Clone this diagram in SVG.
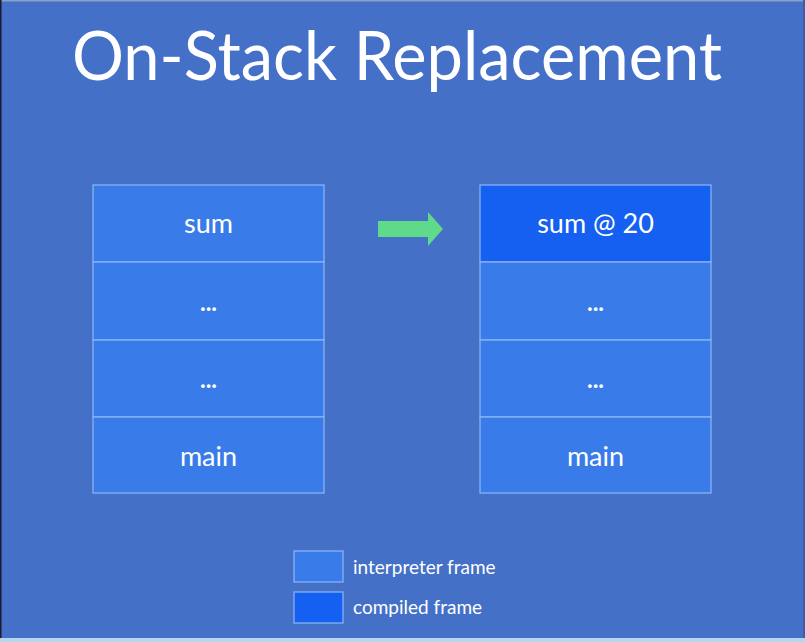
<svg xmlns="http://www.w3.org/2000/svg" width="805" height="642" viewBox="0 0 805 642">
  <style>
    .frame { fill: #3a7bea; stroke: #8db8f5; stroke-width: 1.2; }
    .compiled { fill: #1560f0; stroke: #8db8f5; stroke-width: 1.2; }
    .label { fill: #ffffff; font-family: Lato, "Open Sans", "Liberation Sans", sans-serif; font-size: 27px; text-anchor: middle; }
    .dots { font-weight: bold; font-size: 24px; }
    .legend { fill: #ffffff; font-family: Lato, "Open Sans", "Liberation Sans", sans-serif; font-size: 19px; }
    .title { fill: #ffffff; font-family: Lato, "Open Sans", "Liberation Sans", sans-serif; font-size: 68px; text-anchor: middle; }
  </style>
  <!-- slide background -->
  <rect x="0" y="0" width="805" height="642" fill="#4570c8"/>
  <rect x="0" y="0" width="805" height="1.5" fill="#8aa0c8"/>
  <rect x="0" y="0" width="1.5" height="642" fill="#1a1a2a"/>
  <rect x="803" y="0" width="2" height="642" fill="#3a5ea8"/>
  <rect x="0" y="638" width="805" height="4" fill="#b8d4f0"/>

  <text class="title" x="397" y="80" textLength="650" lengthAdjust="spacingAndGlyphs">On-Stack Replacement</text>

  <!-- stack before -->
  <g id="stack-before">
    <g id="before-sum">
      <rect class="frame" x="93" y="185" width="231" height="77"/>
      <text class="label" x="208.5" y="233">sum</text>
    </g>
    <g id="before-dots1">
      <rect class="frame" x="93" y="262" width="231" height="78"/>
      <text class="label dots" x="208.5" y="311">...</text>
    </g>
    <g id="before-dots2">
      <rect class="frame" x="93" y="340" width="231" height="77"/>
      <text class="label dots" x="208.5" y="388">...</text>
    </g>
    <g id="before-main">
      <rect class="frame" x="93" y="417" width="231" height="76"/>
      <text class="label" x="208.5" y="466">main</text>
    </g>
  </g>

  <!-- stack after -->
  <g id="stack-after">
    <g id="after-sum">
      <rect class="compiled" x="480" y="185" width="231" height="77"/>
      <text class="label" x="595.5" y="233">sum @ 20</text>
    </g>
    <g id="after-dots1">
      <rect class="frame" x="480" y="262" width="231" height="78"/>
      <text class="label dots" x="595.5" y="311">...</text>
    </g>
    <g id="after-dots2">
      <rect class="frame" x="480" y="340" width="231" height="77"/>
      <text class="label dots" x="595.5" y="388">...</text>
    </g>
    <g id="after-main">
      <rect class="frame" x="480" y="417" width="231" height="76"/>
      <text class="label" x="595.5" y="466">main</text>
    </g>
  </g>

  <!-- replacement arrow -->
  <g id="connectors">
    <polygon points="378,221 428,221 428,212 443,229 428,246 428,237 378,237" fill="#5fd98a"/>
  </g>

  <!-- legend -->
  <g id="legend-interpreter">
    <rect class="frame" x="294" y="551" width="49" height="31"/>
    <text class="legend" x="353" y="574">interpreter frame</text>
  </g>
  <g id="legend-compiled">
    <rect class="compiled" x="294" y="592" width="49" height="31"/>
    <text class="legend" x="353" y="614">compiled frame</text>
  </g>
</svg>
